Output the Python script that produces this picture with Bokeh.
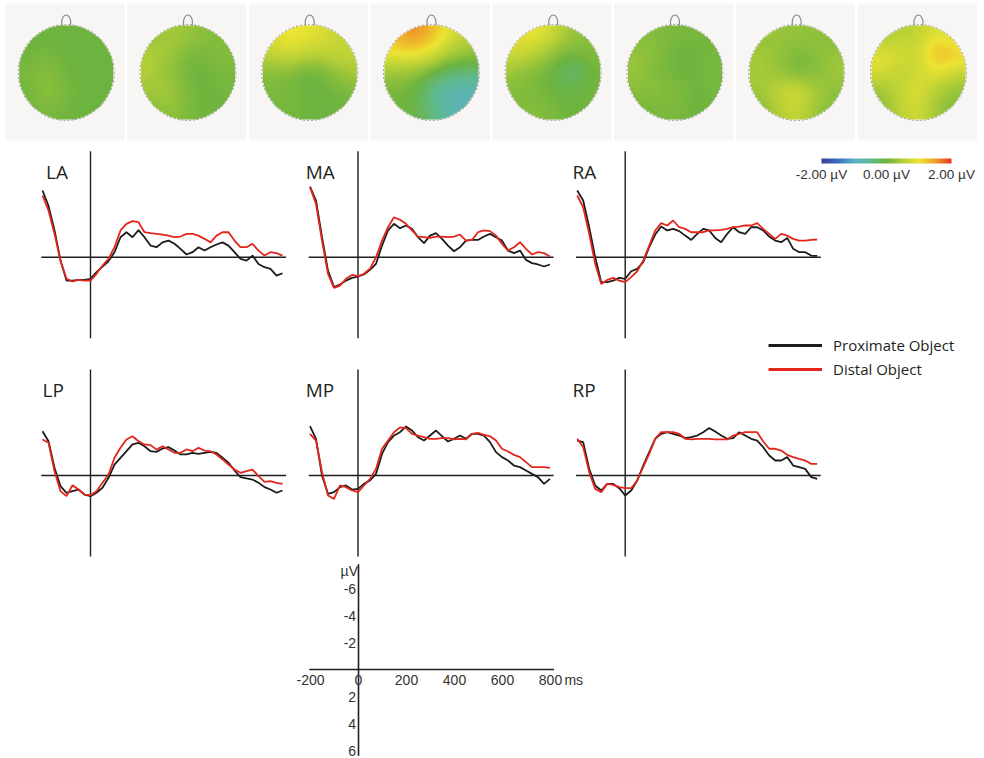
import numpy as np
from bokeh.plotting import figure
from bokeh.models import (Range1d, LinearColorMapper, ColorBar, FixedTicker,
                          PrintfTickFormatter, Legend, LegendItem)
from bokeh.core.properties import value
from bokeh.embed import file_html
from bokeh.resources import INLINE

# ---------------- data ----------------
TIME_MS = list(range(-200, 801, 25))
SERIES_NAMES = ["Proximate Object", "Distal Object"]
PANEL_NAMES = ["LA", "MA", "RA", "LP", "MP", "RP"]

la_prox = [-4.94, -3.8, -2.0, 0.25, 1.73, 1.73, 1.68, 1.68, 1.6, 1.1,
           0.7, 0.3, -0.37, -1.48, -1.85, -1.48, -2.0, -1.48, -0.86, -0.74,
           -1.1, -1.23, -1.0, -0.62, -0.2, -0.37, -0.74, -0.5, -0.74, -0.94,
           -1.1, -0.86, -0.37, 0.12, 0.25, -0.12, 0.5, 0.74, 0.86, 1.36, 1.19]
la_dist = [-4.57, -3.46, -1.73, 0.25, 1.6, 1.8, 1.68, 1.73, 1.73, 1.23,
           0.62, 0.12, -0.74, -1.98, -2.47, -2.67, -2.59, -1.85, -1.78, -1.73,
           -1.68, -1.6, -1.48, -1.53, -1.73, -1.73, -1.6, -1.36, -1.1, -1.6,
           -1.85, -1.85, -1.23, -0.74, -0.74, -0.99, -0.49, -0.12, -0.37, -0.3, -0.12]
ma_prox = [-5.23, -4.2, -1.48, 0.99, 2.22, 2.02, 1.73, 1.53, 1.43, 1.28,
           0.94, 0.49, -0.86, -1.98, -2.47, -2.15, -2.35, -2.1, -1.48, -1.04,
           -1.6, -1.78, -1.36, -0.86, -0.44, -0.74, -1.23, -1.28, -1.28, -1.53,
           -1.73, -1.48, -1.23, -0.49, -0.3, -0.49, 0.2, 0.44, 0.54, 0.69, 0.54]
ma_dist = [-5.19, -3.95, -1.23, 1.23, 2.27, 2.1, 1.6, 1.31, 1.41, 1.23,
           0.86, 0.0, -1.23, -2.22, -2.96, -2.77, -2.47, -1.98, -1.53, -1.48,
           -1.43, -1.53, -1.53, -1.48, -1.53, -1.68, -1.23, -1.28, -1.85, -1.98,
           -1.93, -1.6, -0.99, -0.49, -0.74, -1.11, -0.62, -0.2, -0.37, -0.3, -0.05]
ra_prox = [-4.94, -4.2, -2.22, 0.0, 1.85, 1.85, 1.73, 1.53, 1.6, 1.04,
           0.86, 0.37, -0.74, -1.68, -2.27, -1.98, -2.1, -1.93, -1.6, -1.28,
           -1.73, -2.1, -1.98, -1.43, -1.11, -1.73, -2.22, -1.85, -1.73, -2.22,
           -2.22, -1.98, -1.53, -1.23, -1.11, -1.43, -0.62, -0.37, -0.37, -0.12, -0.1]
ra_dist = [-4.57, -3.7, -1.73, 0.49, 1.98, 1.68, 1.53, 1.73, 1.85, 1.48,
           1.04, 0.25, -0.86, -1.98, -2.52, -2.35, -2.72, -2.22, -2.1, -1.85,
           -1.85, -1.85, -1.98, -1.98, -2.02, -2.1, -2.22, -2.27, -2.35, -2.35,
           -2.52, -2.1, -1.73, -1.36, -1.73, -1.6, -1.36, -1.23, -1.23, -1.28, -1.31]
lp_prox = [-3.28, -2.54, -0.57, 0.79, 1.28, 1.16, 1.04, 1.41, 1.53, 1.28,
           0.91, 0.17, -0.81, -1.31, -1.8, -2.3, -2.42, -2.17, -1.8, -1.75,
           -2.0, -2.1, -1.85, -1.56, -1.56, -1.68, -1.6, -1.68, -1.75, -1.68,
           -1.31, -0.94, -0.37, 0.12, 0.22, 0.3, 0.54, 0.86, 1.04, 1.28, 1.11]
lp_dist = [-2.67, -2.42, -0.32, 1.16, 1.53, 0.72, 1.04, 1.41, 1.46, 1.16,
           0.54, -0.07, -1.31, -2.05, -2.67, -2.91, -2.54, -2.3, -2.25, -1.93,
           -2.17, -1.93, -1.68, -1.68, -1.93, -1.8, -2.05, -1.85, -1.8, -1.56,
           -1.19, -0.81, -0.44, -0.2, -0.32, -0.44, 0.05, 0.47, 0.42, 0.54, 0.62]
mp_prox = [-3.65, -2.72, 0.0, 1.36, 1.23, 0.86, 0.74, 1.04, 0.99, 0.62,
           0.37, -0.12, -1.6, -2.47, -2.96, -3.21, -3.63, -3.33, -2.84, -2.59,
           -2.96, -3.33, -2.91, -2.52, -2.72, -2.96, -2.72, -3.09, -3.09, -2.96,
           -2.47, -1.73, -1.36, -1.11, -0.74, -0.62, -0.37, -0.12, 0.12, 0.62, 0.25]
mp_dist = [-3.09, -2.59, -0.25, 1.48, 1.73, 0.74, 0.86, 1.11, 1.23, 0.74,
           0.25, -0.49, -1.98, -2.59, -3.21, -3.56, -3.51, -3.09, -2.96, -2.84,
           -2.72, -2.72, -2.77, -2.77, -2.67, -2.72, -2.67, -3.09, -3.16, -3.01,
           -2.91, -2.59, -1.98, -1.78, -1.53, -1.36, -0.99, -0.62, -0.62, -0.62, -0.57]
rp_prox = [-2.59, -2.47, -0.49, 0.74, 1.11, 0.62, 0.62, 0.94, 1.48, 1.11,
           0.37, -0.74, -1.73, -2.72, -3.09, -3.21, -3.09, -2.96, -2.77, -2.84,
           -2.96, -3.21, -3.51, -3.26, -2.96, -2.72, -2.77, -3.21, -2.96, -2.72,
           -2.59, -2.1, -1.48, -1.11, -1.11, -1.36, -0.74, -0.62, -0.49, 0.12, 0.25]
rp_dist = [-2.72, -2.1, -0.25, 0.99, 1.23, 0.62, 0.69, 0.86, 0.94, 0.94,
           0.37, -0.62, -1.6, -2.72, -3.21, -3.21, -3.21, -3.09, -2.72, -2.67,
           -2.72, -2.72, -2.72, -2.67, -2.67, -2.67, -2.96, -3.09, -3.21, -3.21,
           -3.21, -2.52, -1.98, -1.98, -1.85, -1.53, -1.36, -1.23, -1.11, -0.86, -0.86]

SERIES = {"LA": (la_prox, la_dist), "MA": (ma_prox, ma_dist), "RA": (ra_prox, ra_dist),
          "LP": (lp_prox, lp_dist), "MP": (mp_prox, mp_dist), "RP": (rp_prox, rp_dist)}

# scalp maps: 5x5 values in µV, rows front -> back, columns left -> right
topo_1 = [[0.0, 0.0, 0.0, 0.0, 0.0], [0.0, 0.1, 0.0, 0.0, 0.0], [0.1, 0.25, 0.0, 0.0, 0.0],
          [0.0, 0.35, 0.1, 0.0, 0.0], [0.0, 0.1, 0.0, 0.0, 0.0]]
topo_2 = [[0.2, 0.45, 0.35, 0.2, 0.1], [0.55, 0.4, 0.1, 0.1, 0.25], [0.55, 0.2, 0.0, 0.0, 0.1],
          [0.35, 0.5, 0.1, 0.0, 0.1], [0.1, 0.3, 0.1, 0.0, 0.0]]
topo_3 = [[0.9, 1.1, 1.0, 0.8, 0.5], [0.6, 0.9, 0.6, 0.7, 0.7], [0.2, 0.1, -0.15, 0.1, 0.45],
          [0.1, 0.1, 0.0, 0.0, 0.1], [0.0, 0.1, 0.0, 0.0, 0.0]]
topo_4 = [[1.3, 1.8, 1.4, 0.9, 0.5], [1.0, 1.1, 0.9, 0.5, 0.3], [0.3, 0.3, 0.0, -0.4, -0.4],
          [0.1, 0.0, -0.6, -0.9, -0.9], [0.0, 0.0, -0.3, -0.8, -0.7]]
topo_5 = [[0.9, 1.1, 0.8, 0.3, 0.2], [0.8, 0.6, 0.2, 0.1, 0.2], [0.3, 0.1, 0.0, -0.65, 0.1],
          [0.2, 0.1, 0.0, 0.0, 0.1], [0.1, 0.25, 0.1, 0.0, 0.0]]
topo_6 = [[0.1, 0.2, 0.1, 0.1, 0.0], [0.35, 0.2, 0.0, 0.0, 0.1], [0.35, 0.1, 0.0, 0.0, 0.1],
          [0.2, 0.25, 0.2, 0.0, 0.1], [0.0, 0.1, 0.1, 0.0, 0.0]]
topo_7 = [[0.2, 0.35, 0.3, 0.3, 0.1], [0.45, 0.3, 0.1, 0.2, 0.35], [0.45, 0.3, 0.0, 0.1, 0.45],
          [0.3, 0.7, 1.0, 0.45, 0.2], [0.1, 0.45, 0.7, 0.3, 0.1]]
topo_8 = [[0.3, 0.5, 0.6, 0.9, 0.5], [1.0, 0.9, 0.6, 1.6, 1.3], [0.9, 0.5, 0.7, 1.0, 0.6],
          [0.2, 0.7, 1.0, 0.4, 0.2], [0.1, 0.6, 0.8, 0.3, 0.1]]
TOPO_MAPS = [topo_1, topo_2, topo_3, topo_4, topo_5, topo_6, topo_7, topo_8]

X_TICKS = [-200, 0, 200, 400, 600, 800]
X_TICK_LABELS = ["-200", "0", "200", "400", "600", "800"]
Y_TICKS = [-6, -4, -2, 2, 4, 6]
Y_TICK_LABELS = ["-6", "-4", "-2", "2", "4", "6"]
CBAR_TICKS = [-2, 0, 2]

# ---------------- layout / style ----------------
W, H = 984, 758
SX, SY = 0.24, 13.5          # px per ms, px per µV
BLACK, RED = "#1c1c1c", "#e3261c"
TXT = "#231f20"
PANEL_ORIGINS = {"LA": (90, 256.7), "MA": (357.5, 256.7), "RA": (624.7, 256.7),
                 "LP": (90, 475), "MP": (357.5, 475), "RP": (624.7, 475),
                 "SCALE": (358, 669)}
LABEL_T = {"LA": -185, "MA": -218, "RA": -220, "LP": -200, "MP": -218, "RP": -220}

p = figure(width=W, height=H, output_backend="svg", toolbar_location=None,
           x_range=Range1d(0, W), y_range=Range1d(H, 0),
           x_axis_location=None, y_axis_location=None, min_border=0,
           outline_line_color=None)
p.grid.visible = False
p.background_fill_color = "white"
p.border_fill_color = "white"

xr, yr = {}, {}
for name, (ox, oy) in PANEL_ORIGINS.items():
    xr[name] = Range1d(start=-ox / SX, end=(W - ox) / SX)
    yr[name] = Range1d(start=(H - oy) / SY, end=-oy / SY)
TOPO_PX = 121.75
xr["topo"] = Range1d(start=-3 / TOPO_PX, end=(W - 3) / TOPO_PX)
yr["topo"] = Range1d(start=0, end=H)
p.extra_x_ranges = xr
p.extra_y_ranges = yr

# ---------------- colour map ----------------
anch_v = [-2.0, -1.5, -1.0, -0.5, 0.0, 0.5, 1.0, 1.5, 2.0]
anch_c = [(62, 62, 150), (60, 110, 190), (90, 175, 205), (95, 185, 140), (108, 179, 63),
          (178, 206, 55), (236, 228, 50), (240, 160, 40), (228, 55, 40)]
pal = []
for v in np.linspace(-2, 2, 256):
    rgb = [int(round(np.interp(v, anch_v, [c[i] for c in anch_c]))) for i in range(3)]
    pal.append("#%02x%02x%02x" % tuple(rgb))
mapper = LinearColorMapper(palette=pal, low=-2, high=2, nan_color=(0, 0, 0, 0))


def topo_field(grid, n=96):
    g = np.array(grid, dtype=float)
    nodes = np.array([-0.8, -0.4, 0.0, 0.4, 0.8])
    xs = np.linspace(-1, 1, n)
    X, Y = np.meshgrid(xs, xs)
    num = np.zeros_like(X)
    den = np.zeros_like(X)
    for r in range(5):
        for c in range(5):
            w = np.exp(-((X - nodes[c]) ** 2 + (Y - nodes[4 - r]) ** 2) / (2 * 0.26 ** 2))
            num += w * g[r, c]
            den += w
    f = num / den
    f[X ** 2 + Y ** 2 > 1.0] = np.nan
    return f


# ---------------- scalp maps ----------------
tk = dict(x_range_name="topo", y_range_name="topo")
head_cy, head_r = H - 72, 48
for k, grid in enumerate(TOPO_MAPS):
    cx = k + 0.515
    p.quad(left=[k + 0.015], right=[k + 0.995], bottom=[H - 140], top=[H - 3],
           fill_color="#f7f6f4", line_color=None, **tk)
    p.ellipse(x=[cx], y=[H - 22], width=[9 / TOPO_PX], height=[15],
              fill_color=None, line_color="#8a8a8a", line_width=1.2, **tk)
    p.image(image=[topo_field(grid)], x=cx - head_r / TOPO_PX, y=head_cy - head_r,
            dw=2 * head_r / TOPO_PX, dh=2 * head_r, color_mapper=mapper, **tk)
    p.ellipse(x=[cx], y=[head_cy], width=[2 * head_r / TOPO_PX], height=[2 * head_r],
              fill_color=None, line_color="#9c9c9c", line_width=1, line_dash="2 2", **tk)

# ---------------- ERP panels ----------------
for name in PANEL_NAMES:
    prox, dist = SERIES[name]
    kw = dict(x_range_name=name, y_range_name=name)
    p.segment(x0=[-205, 0], y0=[0, -7.85], x1=[815, 0], y1=[0, 6.0],
              line_color="#1e1e1e", line_width=1.4, **kw)
    p.line(TIME_MS, prox, line_color=BLACK, line_width=1.8, **kw)
    p.line(TIME_MS, dist, line_color=RED, line_width=1.8, **kw)
    p.text(x=[LABEL_T[name]], y=[-6.3], text=[name], text_font=value("Open Sans"),
           text_font_size=value("19px"), text_color=TXT, text_baseline="alphabetic",
           text_align="left", **kw)

# ---------------- scale panel ----------------
kw = dict(x_range_name="SCALE", y_range_name="SCALE")
p.segment(x0=[-205, 0], y0=[0, -7.8], x1=[815, 0], y1=[0, 6.4],
          line_color="#1e1e1e", line_width=1.6, **kw)
fnt = dict(text_font=value("Liberation Sans"), text_font_size=value("14px"),
           text_color="#333333", text_baseline="middle")
p.text(x=X_TICKS, y=[0.78] * len(X_TICKS), text=X_TICK_LABELS, text_align="center", **fnt, **kw)
p.text(x=[858], y=[0.78], text=["ms"], text_align="left", **fnt, **kw)
p.text(x=[-10] * len(Y_TICKS), y=Y_TICKS, text=Y_TICK_LABELS, text_align="right", **fnt, **kw)
p.text(x=[-2], y=[-7.3], text=["µV"], text_align="right", **fnt, **kw)

# ---------------- colour bar ----------------
cbar = ColorBar(color_mapper=mapper, orientation="horizontal", width=130, height=5,
                location=(821, 574), padding=0, ticker=FixedTicker(ticks=CBAR_TICKS),
                formatter=PrintfTickFormatter(format="%.2f µV"),
                major_label_text_font="Liberation Sans", major_label_text_font_size="13.5px",
                major_label_text_color="#333333", major_tick_line_color=None,
                minor_tick_line_color=None, bar_line_color=None, label_standoff=3,
                background_fill_alpha=0, border_line_color=None)
p.add_layout(cbar)

# ---------------- legend ----------------
lb = p.line(x=[np.nan, np.nan], y=[np.nan, np.nan], line_color=BLACK, line_width=3)
lr = p.line(x=[np.nan, np.nan], y=[np.nan, np.nan], line_color=RED, line_width=3)
legend = Legend(items=[LegendItem(label=SERIES_NAMES[0], renderers=[lb]),
                       LegendItem(label=SERIES_NAMES[1], renderers=[lr])],
                location=(768, H - 379), glyph_width=54, glyph_height=20, spacing=4,
                padding=0, margin=0, label_standoff=11, border_line_color=None,
                background_fill_alpha=0, label_text_font="Open Sans",
                label_text_font_size="15px", label_text_color=TXT)
p.add_layout(legend)

open("out.html", "w").write(file_html(p, INLINE))
